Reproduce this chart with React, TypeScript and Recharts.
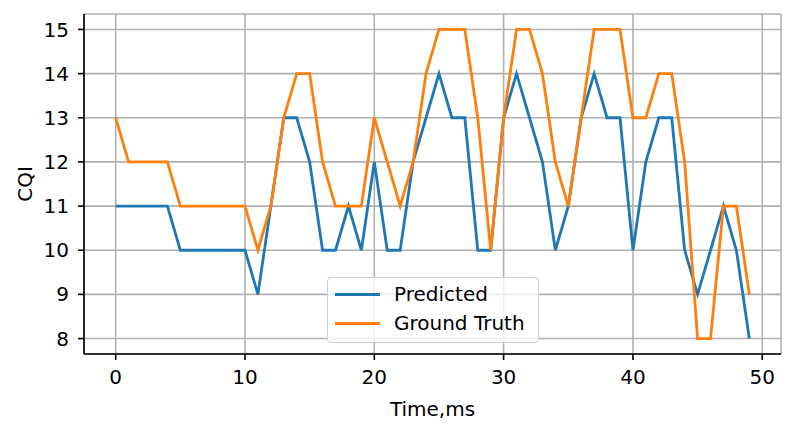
import React from "react";
import {
  LineChart,
  Line,
  XAxis,
  YAxis,
  CartesianGrid,
  Legend,
  Label,
} from "recharts";

const timeMs = Array.from({ length: 50 }, (_, i) => i);

const predicted = [
  11, 11, 11, 11, 11, 10, 10, 10, 10, 10,
  10, 9, 11, 13, 13, 12, 10, 10, 11, 10,
  12, 10, 10, 12, 13, 14, 13, 13, 10, 10,
  13, 14, 13, 12, 10, 11, 13, 14, 13, 13,
  10, 12, 13, 13, 10, 9, 10, 11, 10, 8,
];

const groundTruth = [
  13, 12, 12, 12, 12, 11, 11, 11, 11, 11,
  11, 10, 11, 13, 14, 14, 12, 11, 11, 11,
  13, 12, 11, 12, 14, 15, 15, 15, 13, 10,
  13, 15, 15, 14, 12, 11, 13, 15, 15, 15,
  13, 13, 14, 14, 12, 8, 8, 11, 11, 9,
];

const xTicks = [0, 10, 20, 30, 40, 50];
const yTicks = [8, 9, 10, 11, 12, 13, 14, 15];

const BLUE = "#1f77b4";
const ORANGE = "#ff7f0e";
const FONT = "DejaVu Sans, sans-serif";

const data = timeMs.map((t, i) => ({
  t,
  predicted: predicted[i],
  truth: groundTruth[i],
}));

function LegendBox() {
  const rows = [
    { name: "Predicted", color: BLUE },
    { name: "Ground Truth", color: ORANGE },
  ];
  return (
    <div
      style={{
        width: 210,
        height: 64,
        border: "1px solid #d0d0d0",
        borderRadius: 4,
        background: "rgba(255,255,255,0.8)",
        fontFamily: FONT,
        fontSize: 20,
        color: "#000",
        boxSizing: "content-box",
      }}
    >
      {rows.map((r, i) => (
        <div
          key={r.name}
          style={{
            position: "absolute",
            left: 0,
            top: 3 + i * 29,
            height: 29,
            display: "flex",
            alignItems: "center",
          }}
        >
          <div
            style={{
              marginLeft: 8,
              width: 45,
              height: 3,
              background: r.color,
            }}
          />
          <span style={{ marginLeft: 14, lineHeight: "29px" }}>{r.name}</span>
        </div>
      ))}
    </div>
  );
}

export default function App() {
  return (
    <div style={{ position: "absolute", left: 0, top: 0, background: "#fff" }}>
      <LineChart
        width={796}
        height={432}
        data={data}
        margin={{ top: 14, right: 15, left: 0, bottom: 0 }}
        style={{ fontFamily: FONT }}
      >
        <CartesianGrid stroke="#b0b0b0" strokeWidth={1.6} />
        <XAxis
          dataKey="t"
          type="number"
          domain={[-2.45, 51.45]}
          ticks={xTicks}
          height={78}
          allowDataOverflow
          stroke="#000"
          strokeWidth={1.6}
          tickSize={6}
          tickMargin={10}
          tick={{ fill: "#000", fontSize: 20, fontFamily: FONT }}
        >
          <Label
            content={({ viewBox }: any) => (
              <text
                x={viewBox.x + viewBox.width / 2}
                y={409}
                textAnchor="middle"
                dominantBaseline="central"
                fontSize={20}
                fontFamily={FONT}
                fill="#000"
              >
                Time,ms
              </text>
            )}
          />
        </XAxis>
        <XAxis
          xAxisId="top"
          orientation="top"
          type="number"
          domain={[-2.45, 51.45]}
          height={0}
          tick={false}
          tickLine={false}
          stroke="#000"
          strokeWidth={1.6}
        />
        <YAxis
          type="number"
          domain={[7.65, 15.35]}
          ticks={yTicks}
          width={84}
          allowDataOverflow
          stroke="#000"
          strokeWidth={1.6}
          tickSize={6}
          tickMargin={9}
          tick={{ fill: "#000", fontSize: 20, fontFamily: FONT }}
        >
          <Label
            content={({ viewBox }: any) => (
              <text
                x={25}
                y={viewBox.y + viewBox.height / 2}
                transform={`rotate(-90 25 ${viewBox.y + viewBox.height / 2})`}
                textAnchor="middle"
                dominantBaseline="central"
                fontSize={20}
                fontFamily={FONT}
                fill="#000"
              >
                CQI
              </text>
            )}
          />
        </YAxis>
        <YAxis
          yAxisId="right"
          orientation="right"
          type="number"
          domain={[7.65, 15.35]}
          width={0}
          tick={false}
          tickLine={false}
          stroke="#000"
          strokeWidth={1.6}
        />
        <Line
          type="linear"
          dataKey="predicted"
          name="Predicted"
          stroke={BLUE}
          strokeWidth={2.8}
          dot={false}
          activeDot={false}
          isAnimationActive={false}
        />
        <Line
          type="linear"
          dataKey="truth"
          name="Ground Truth"
          stroke={ORANGE}
          strokeWidth={2.8}
          dot={false}
          activeDot={false}
          isAnimationActive={false}
        />
        <Legend
          layout="vertical"
          align="center"
          verticalAlign="middle"
          wrapperStyle={{ left: 327, top: 277, width: 212, height: 66 }}
          content={() => <LegendBox />}
        />
      </LineChart>
    </div>
  );
}
